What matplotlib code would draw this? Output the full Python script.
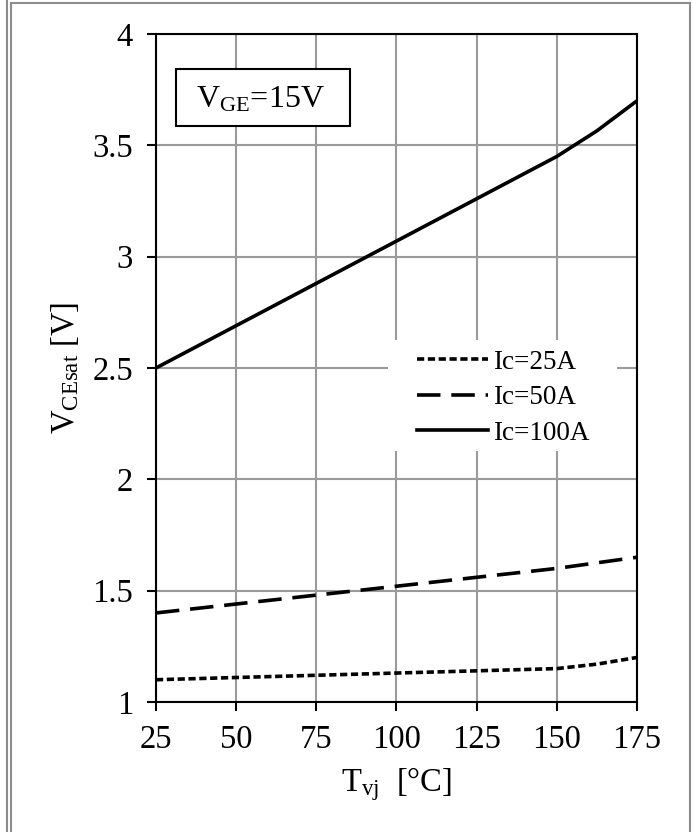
import matplotlib
matplotlib.use("Agg")
import matplotlib.pyplot as plt
from matplotlib.patches import Rectangle
from matplotlib.lines import Line2D

plt.rcParams['font.family'] = ['Liberation Serif', 'DejaVu Serif']
plt.rcParams['mathtext.fontset'] = 'custom'
plt.rcParams['mathtext.rm'] = 'Liberation Serif'
plt.rcParams['mathtext.it'] = 'Liberation Serif:italic'

# junction temperature [degC]
temp = [25, 50, 75, 100, 125, 150, 162.5, 175]

# collector-emitter saturation voltage [V]
vce_25a = [1.10, 1.11, 1.12, 1.13, 1.14, 1.15, 1.17, 1.20]
vce_50a = [1.40, 1.44, 1.48, 1.52, 1.56, 1.60, 1.625, 1.65]
vce_100a = [2.50, 2.69, 2.88, 3.07, 3.26, 3.45, 3.565, 3.70]

labels = ['Ic=25A', 'Ic=50A', 'Ic=100A']
xticks = [25, 50, 75, 100, 125, 150, 175]
yticks = [1, 1.5, 2, 2.5, 3, 3.5, 4]

fig = plt.figure(figsize=(6.96, 8.32), dpi=100)
ax = fig.add_axes([0.2241, 0.15625, 0.6911, 0.8029])

lw = 2.6
ax.plot(temp, vce_25a, color='black', lw=lw, dashes=(2.0, 1.0), label=labels[0])
ax.plot(temp, vce_50a, color='black', lw=lw, dashes=(6.5, 3.0), label=labels[1])
ax.plot(temp, vce_100a, color='black', lw=lw, label=labels[2])

ax.set_xlim(25, 175)
ax.set_ylim(1, 4)
ax.set_xticks(xticks)
ax.set_yticks(yticks)
ax.set_yticklabels(['1', '1.5', '2', '2.5', '3', '3.5', '4'])
ax.set_axisbelow(True)
ax.grid(True, color='#9a9a9a', lw=1.5)

for sp in ax.spines.values():
    sp.set_linewidth(1.5)
    sp.set_color('black')
ax.tick_params(axis='both', direction='out', length=6.5, width=1.5,
               labelsize=23.5, pad=10)

ax.set_ylabel(r'V$_{\mathrm{CEsat}}$ [V]', fontsize=23.5)
ax.yaxis.set_label_coords(-0.155, 0.5)
ax.set_xlabel(r'T$_{\mathrm{vj}}$  [°C]', fontsize=23.5)
ax.xaxis.set_label_coords(0.5, -0.095)

# white patch behind the legend hides the grid there
ax.add_patch(Rectangle((0.482, 0.376), 0.476, 0.166, transform=ax.transAxes,
                       facecolor='white', edgecolor='none', zorder=1.5))
ax.legend(loc='upper left', bbox_to_anchor=(0.543, 0.527), frameon=False,
          fontsize=19.5, borderaxespad=0, borderpad=0, handlelength=2.6,
          handletextpad=0.2, labelspacing=0.38)

# condition box
ax.add_patch(Rectangle((0.0416, 0.862), 0.3617, 0.0853, transform=ax.transAxes,
                       facecolor='white', edgecolor='black', lw=1.5, zorder=3))
ax.text(0.083, 0.8907, r'V$_{\mathrm{GE}}$=15V', transform=ax.transAxes,
        fontsize=23, ha='left', va='baseline', zorder=4)

# page frame lines
W, H = 696.0, 832.0
frame = [
    ((7 / W, 7 / W), (0, 1)),
    ((11 / W, 11 / W), (0, 1 - 3 / H)),
    ((11 / W, 690 / W), (1 - 3 / H, 1 - 3 / H)),
    ((690 / W, 690 / W), (0, 1 - 3 / H)),
]
for xs, ys in frame:
    fig.add_artist(Line2D(xs, ys, transform=fig.transFigure,
                          color='#8c8c8c', lw=1.5))

fig.savefig('out.png', dpi=100)
